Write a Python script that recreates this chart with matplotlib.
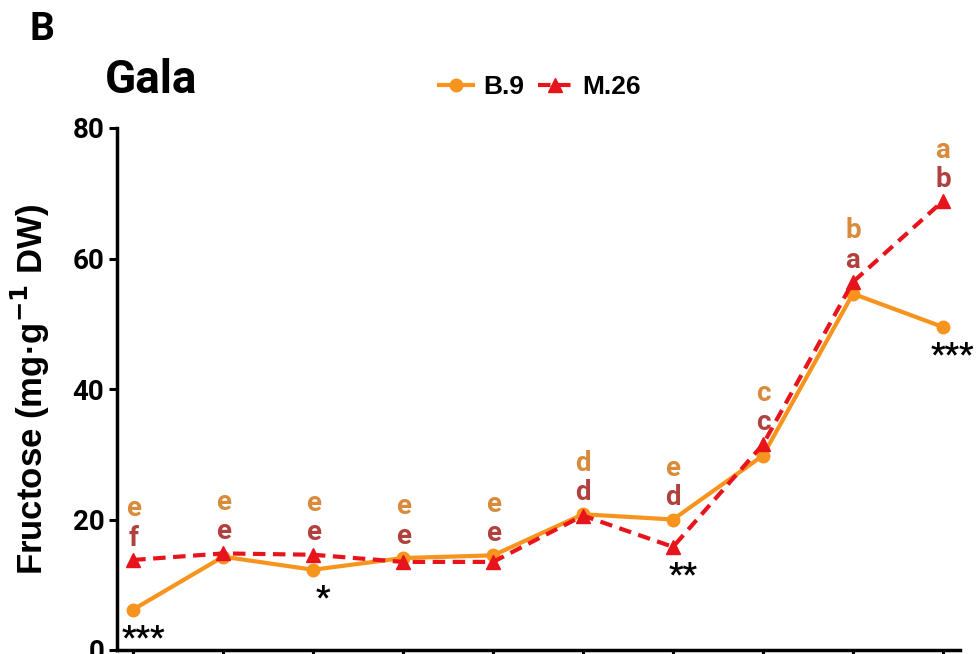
import matplotlib
matplotlib.use("Agg")
import matplotlib.pyplot as plt
from matplotlib.lines import Line2D

# sampling stages (x labels are cropped off in the reference)
stages = list(range(10))

# fructose content, mg/g DW
b9 = [6.2, 14.3, 12.3, 14.1, 14.5, 20.8, 20.0, 29.8, 54.6, 49.5]
m26 = [13.8, 14.8, 14.6, 13.5, 13.5, 20.6, 15.8, 31.5, 56.4, 68.8]

# significance letters per rootstock
b9_letters = ["e", "e", "e", "e", "e", "d", "e", "c", "b", "a"]
m26_letters = ["f", "e", "e", "e", "e", "d", "d", "c", "a", "b"]

# stars between rootstocks (placed under the lower point)
stars = ["***", "", "*", "", "", "", "**", "", "", "***"]

ORANGE = "#F7941D"
RED = "#E8141B"
ORANGE_TXT = "#D98B3C"
RED_TXT = "#B0413E"

fig = plt.figure(figsize=(9.78, 6.54), dpi=100)
ax = fig.add_axes([117 / 978, 4 / 654, 843 / 978, 522 / 654])

ax.plot(stages, b9, color=ORANGE, lw=3, marker="o", ms=9, zorder=3)
ax.plot(stages, m26, color=RED, lw=3, ls=(0, (3, 1.8)), marker="^", ms=10, zorder=4)

for i in stages:
    top = max(b9[i], m26[i])
    low = min(b9[i], m26[i])
    ax.annotate(m26_letters[i], (i, top), xytext=(0, 6), textcoords="offset points",
                ha="center", va="bottom", color=RED_TXT, fontsize=20,
                fontweight="bold", family="Roboto")
    ax.annotate(b9_letters[i], (i, top), xytext=(0, 27), textcoords="offset points",
                ha="center", va="bottom", color=ORANGE_TXT, fontsize=20,
                fontweight="bold", family="Roboto")
    if stars[i]:
        # stars sit a little to the right of the point, as in the original
        ax.annotate(stars[i], (i, low), xytext=(7, -9), textcoords="offset points",
                    ha="center", va="top", color="black", fontsize=23,
                    fontweight="bold", family="Roboto")

ax.set_xlim(-0.18, 9.19)
ax.set_ylim(0, 80)
ax.set_yticks([0, 20, 40, 60, 80])
ax.set_xticks(stages)
ax.set_xticklabels([])
for lab in ax.get_yticklabels():
    lab.set_fontfamily("Roboto")
    lab.set_fontweight("bold")
    lab.set_fontsize(20)
ax.tick_params(axis="both", width=2.2, length=6, direction="out", pad=3)
ax.spines["top"].set_visible(False)
ax.spines["right"].set_visible(False)
ax.spines["left"].set_linewidth(2.5)
ax.spines["bottom"].set_linewidth(2.5)

fig.text(30 / 978, 1 - 390 / 654, "Fructose (mg\u00b7g$^{\\mathbf{-1}}$ DW)", rotation=90,
         ha="center", va="center", fontsize=25, fontweight="bold",
         family="Liberation Sans")

fig.text(105 / 978, 1 - 80 / 654, "Gala", ha="left", va="center",
         fontsize=33, fontweight="bold", family="Roboto")
fig.text(30 / 978, 1 - 29 / 654, "B", ha="left", va="center",
         fontsize=28, fontweight="bold", family="Roboto")

handles = [
    Line2D([0], [0], color=ORANGE, lw=3, marker="o", ms=9),
    Line2D([0], [0], color=RED, lw=3, ls=(0, (3, 1.8)), marker="^", ms=10),
]
fig.legend(handles, ["B.9", "M.26"], loc="center", bbox_to_anchor=(540 / 978, 1 - 87 / 654),
           ncol=2, frameon=False, handlelength=1.3, handletextpad=0.4, columnspacing=0.5,
           prop={"family": "Liberation Sans", "weight": "bold", "size": 19})

fig.savefig("out.png", dpi=100)
